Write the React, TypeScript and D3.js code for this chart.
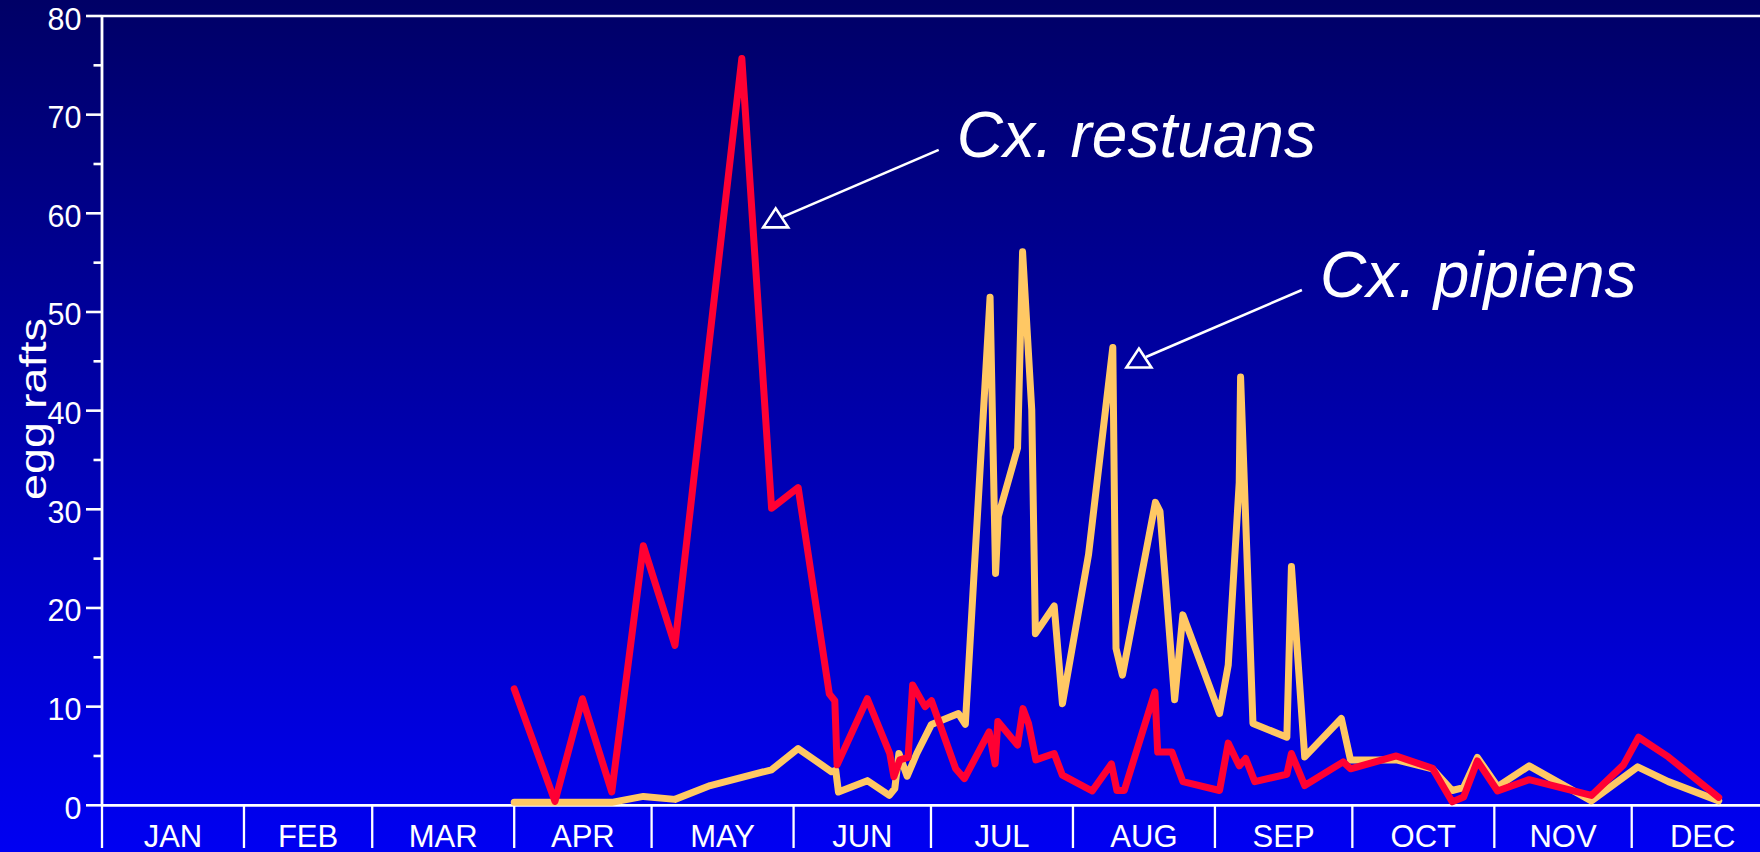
import React from "react";
import * as d3 from "d3";

// ---- data ----
const MONTHS = ["JAN", "FEB", "MAR", "APR", "MAY", "JUN", "JUL", "AUG", "SEP", "OCT", "NOV", "DEC"];
const MONTH_START_DAYS = [0, 31, 59, 90, 120, 151, 181, 212, 243, 273, 304, 334, 365];
const Y_TICKS = [0, 10, 20, 30, 40, 50, 60, 70, 80];
const Y_MINOR_TICKS = [5, 15, 25, 35, 45, 55, 65, 75];

// day of year (0 = Jan 1) and egg-raft counts
const restuansDays = [
  90, 98.9, 104.9, 111.3, 118.2, 125.1, 132.6, 139.7, 146.2, 152, 158.8, 160, 160.5, 167.1, 172, 172.9,
  174.2, 176, 177, 179.7, 181.1, 186.4, 188.3, 193.7, 195, 195.6, 199.9, 201.1, 202.3, 203.9, 207.9, 209.7,
  216.2, 220.4, 221.6, 223.2, 229.9, 230.5, 233.6, 236, 244, 245.9, 248.3, 249.7, 251.7, 258.7, 259.7,
  262.6, 271, 272.6, 282.6, 290.5, 294.8, 297.3, 300.3, 304.7, 311.6, 325.2, 332.2, 335.5, 342, 353,
];
const restuansValues = [
  11.8, 0.4, 10.8, 1.35, 26.3, 16.2, 47, 75.7, 30.1, 32.2, 11.3, 10.6, 4.1, 10.8, 5.25, 2.9,
  4.6, 4.85, 12.2, 10.0, 10.6, 3.7, 2.7, 7.45, 4.2, 8.5, 6.1, 9.8, 8.3, 4.6, 5.25, 3.05,
  1.45, 4.2, 1.5, 1.5, 11.5, 5.4, 5.4, 2.4, 1.5, 6.3, 4.0, 4.75, 2.4, 3.15, 5.25,
  2.0, 4.4, 3.7, 5.0, 3.75, 0.35, 0.85, 4.5, 1.45, 2.6, 1.0, 4.1, 6.9, 4.9, 0.8,
];

const pipiensDays = [
  90, 111.3, 118.2, 125.1, 132.8, 146.2, 152, 159.3, 160.2, 160.8, 167.1, 171.9, 173.1, 174, 175.8, 177.9,
  181.1, 187, 188.5, 193.9, 195.1, 195.7, 199.9, 201, 203, 203.8, 207.9, 209.7, 215.4, 220.7, 221.4, 222.8,
  230, 231, 234.2, 236, 244, 245.9, 248.3, 248.6, 251.3, 258.7, 259.7, 262.6, 270.6, 272.6, 282.6, 290.5,
  294.8, 297.3, 300.3, 304.7, 311.6, 325.2, 335.3, 342, 353,
];
const pipiensValues = [
  0.3, 0.3, 0.9, 0.6, 2.0, 3.6, 5.75, 3.4, 3.55, 1.35, 2.5, 1.0, 1.7, 5.25, 2.95, 5.25,
  8.2, 9.3, 8.2, 51.5, 23.5, 29.3, 36.2, 56.1, 40.1, 17.4, 20.2, 10.3, 25.4, 46.4, 15.9, 13.2,
  30.7, 29.8, 10.7, 19.3, 9.3, 14.2, 32.7, 43.4, 8.3, 6.9, 24.2, 4.9, 8.8, 4.6, 4.6, 3.7,
  1.5, 1.8, 4.85, 1.9, 4.0, 0.45, 3.9, 2.4, 0.45,
];

// annotation anchors (day, value) and labels
const LABELS = ["Cx. restuans", "Cx. pipiens"];
const ANCHOR_DAYS = [147.1, 226.4];
const ANCHOR_VALUES = [60.5, 46.3];

const W = 1760;
const H = 852;
const FONT = "'Liberation Sans', Arial, Helvetica, sans-serif";

export default function App() {
  const x = d3.scaleLinear().domain([0, 365]).range([102, 1773.7]);
  const y = d3.scaleLinear().domain([0, 80]).range([805.3, 16]);
  const line = d3
    .line<[number, number]>()
    .x((d) => x(d[0]))
    .y((d) => y(d[1]))
    .curve(d3.curveLinear);

  const restuans = restuansDays.map((d, i) => [d, restuansValues[i]] as [number, number]);
  const pipiens = pipiensDays.map((d, i) => [d, pipiensValues[i]] as [number, number]);

  const x0 = x(0);
  const yBase = y(0);

  return (
    <svg
      width={W}
      height={H}
      style={{ position: "absolute", left: 0, top: 0, display: "block" }}
      fontFamily={FONT}
    >
      <defs>
        <linearGradient id="bg" x1="0" y1="0" x2="0" y2="1">
          <stop offset="0" stopColor="#000066" />
          <stop offset="1" stopColor="#0000F2" />
        </linearGradient>
      </defs>
      <rect x={0} y={0} width={W} height={H} fill="url(#bg)" />

      {/* frame */}
      <line x1={x0} x2={W} y1={y(80)} y2={y(80)} stroke="#fff" strokeWidth={2.4} />
      <line x1={x0} x2={W} y1={yBase} y2={yBase} stroke="#fff" strokeWidth={2.8} />
      <line x1={x0} x2={x0} y1={y(80) - 1} y2={yBase} stroke="#fff" strokeWidth={2.8} />

      {/* y ticks */}
      {Y_TICKS.map((t) => (
        <g key={"yt" + t}>
          <line x1={x0 - 16} x2={x0} y1={y(t)} y2={y(t)} stroke="#fff" strokeWidth={2.6} />
          <text x={81.5} y={y(t) + 13.5} fill="#fff" fontSize={30.5} textAnchor="end">
            {t}
          </text>
        </g>
      ))}
      {Y_MINOR_TICKS.map((t) => (
        <line key={"ym" + t} x1={x0 - 8.5} x2={x0} y1={y(t)} y2={y(t)} stroke="#fff" strokeWidth={2.6} />
      ))}

      {/* month dividers and labels */}
      {MONTH_START_DAYS.slice(0, 12).map((d) => (
        <line key={"md" + d} x1={x(d)} x2={x(d)} y1={yBase} y2={848} stroke="#fff" strokeWidth={2.3} />
      ))}
      {MONTHS.map((m, i) => (
        <text
          key={m}
          x={(x(MONTH_START_DAYS[i]) + x(MONTH_START_DAYS[i + 1])) / 2}
          y={846.5}
          fill="#fff"
          fontSize={31}
          textAnchor="middle"
        >
          {m}
        </text>
      ))}

      {/* y-axis title */}
      <text
        transform={`translate(46,409) rotate(-90)`}
        fill="#fff"
        fontSize={37}
        textAnchor="middle"
        textLength={182}
        lengthAdjust="spacingAndGlyphs"
      >
        egg rafts
      </text>

      {/* series */}
      <path
        d={line(pipiens) || ""}
        fill="none"
        stroke="#FFC864"
        strokeWidth={7}
        strokeLinejoin="round"
        strokeLinecap="round"
      />
      <path
        d={line(restuans) || ""}
        fill="none"
        stroke="#FF0033"
        strokeWidth={7}
        strokeLinejoin="round"
        strokeLinecap="round"
      />

      {/* annotations */}
      {LABELS.map((lab, i) => {
        const ax = x(ANCHOR_DAYS[i]);
        const ay = y(ANCHOR_VALUES[i]);
        return (
          <g key={lab}>
            <path
              d={`M${ax},${ay} L${ax + 12.5},${ay + 19} L${ax - 12.5},${ay + 19} Z`}
              fill="none"
              stroke="#fff"
              strokeWidth={2.6}
              strokeLinejoin="miter"
            />
            <line x1={ax + 7} y1={ay + 8.5} x2={ax + 163} y2={ay - 58.5} stroke="#fff" strokeWidth={2.6} />
            <text x={ax + 181} y={ay - 51} fill="#fff" fontSize={64} fontStyle="italic">
              {lab}
            </text>
          </g>
        );
      })}
    </svg>
  );
}
